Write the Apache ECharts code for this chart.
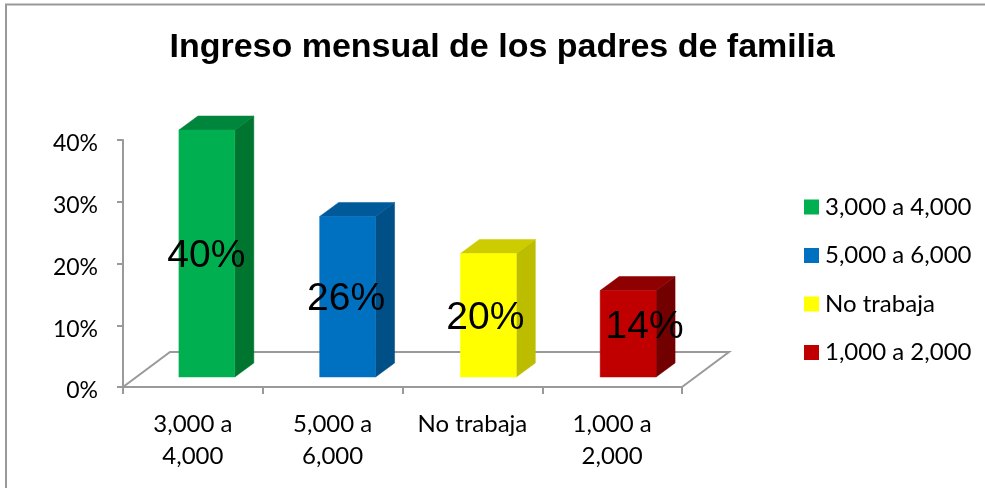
<!DOCTYPE html>
<html>
<head>
<meta charset="utf-8">
<style>
  html, body { margin: 0; padding: 0; background: #fff; }
  #chart { width: 985px; height: 488px; }
</style>
<script src="https://cdn.jsdelivr.net/npm/echarts@6/dist/echarts.min.js"></script>
</head>
<body>
<div id="chart"></div>
<script>
const titleText = 'Ingreso mensual de los padres de familia';
const categories = ['3,000 a 4,000', '5,000 a 6,000', 'No trabaja', '1,000 a 2,000'];
const values = [40, 26, 20, 14];
const yTicks = [0, 10, 20, 30, 40];

// front, side, top
const barColors = [
  ['#00B050', '#00752F', '#00853C'],
  ['#0070C0', '#004F87', '#005A9A'],
  ['#FFFF00', '#BDBD00', '#CCCC00'],
  ['#C00000', '#730000', '#8F0000']
];
// bar and label nudges, the labels are not all centred on their bars
const barShift = [14, 15, 16, 16];
const labelShiftX = [-0.5, -1.5, -3, 16.5];
const labelShiftY = [3, 3, 3, -7];

const axisGrey = '#9A9A9A';
const depthX = 19, depthY = 14;
const floorX = 47, floorY = 35;

function renderFloor(params, api) {
  const c = params.coordSys;
  const x0 = c.x, x1 = c.x + c.width, y = c.y + c.height;
  return {
    type: 'polyline',
    silent: true,
    shape: { points: [[x0, y], [x0 + floorX, y - floorY], [x1 + floorX, y - floorY], [x1, y]] },
    style: { fill: 'none', stroke: axisGrey, lineWidth: 2 }
  };
}

function renderBar(params, api) {
  const i = api.value(0);
  const top = api.coord([i, api.value(1)]);
  const base = api.coord([i, 0]);
  const w = api.size([1, 0])[0] * 0.4;
  const l = top[0] - w / 2 + barShift[i], r = l + w;
  const t = top[1] - 10, b = base[1] - 10;
  const col = barColors[i];
  const poly = (points, fill) => ({ type: 'polygon', shape: { points }, style: { fill, stroke: fill, lineWidth: 0.5 } });
  return {
    type: 'group',
    children: [
      poly([[r, b], [r + depthX, b - depthY], [r + depthX, t - depthY], [r, t]], col[1]),
      poly([[l, t], [l + depthX, t - depthY], [r + depthX, t - depthY], [r, t]], col[2]),
      poly([[l, t], [r, t], [r, b], [l, b]], col[0]),
      {
        type: 'text',
        z2: 10,
        style: {
          x: (l + r) / 2 + labelShiftX[i],
          y: (t + b) / 2 + labelShiftY[i],
          text: api.value(1) + '%',
          align: 'center',
          verticalAlign: 'middle',
          fill: '#000',
          font: '39px "Liberation Sans"'
        }
      }
    ]
  };
}

const chart = echarts.init(document.getElementById('chart'));
chart.setOption({
  animation: false,
  backgroundColor: '#fff',
  textStyle: { fontFamily: 'Lato' },
  title: {
    text: titleText,
    left: 497,
    top: 26,
    textAlign: 'center',
    textStyle: { fontFamily: 'Liberation Sans', fontWeight: 'bold', fontSize: 34, color: '#000' }
  },
  graphic: [{
    type: 'polyline',
    silent: true,
    shape: { points: [[6, 488], [6, 4.5], [985, 4.5]] },
    style: { fill: 'none', stroke: '#999', lineWidth: 2 }
  }],
  legend: {
    orient: 'vertical',
    left: 804,
    top: 195,
    padding: 0,
    itemWidth: 15,
    itemHeight: 15,
    itemGap: 24.5,
    icon: 'rect',
    data: categories,
    textStyle: { fontFamily: 'Lato', fontSize: 24, lineHeight: 24, color: '#000', padding: [0, 0, 0, 1] }
  },
  grid: { left: 123, right: 303, top: 140, bottom: 101 },
  xAxis: {
    type: 'category',
    data: categories,
    axisLine: { lineStyle: { color: axisGrey, width: 2 } },
    axisTick: { show: true, length: 7, lineStyle: { color: axisGrey, width: 2 } },
    axisLabel: {
      interval: 0,
      color: '#000',
      fontFamily: 'Lato',
      fontSize: 24,
      lineHeight: 32,
      margin: 21,
      formatter: (name) => name.replace(' a ', ' a\n')
    }
  },
  yAxis: {
    type: 'value',
    min: yTicks[0],
    max: yTicks[yTicks.length - 1],
    interval: 10,
    splitLine: { show: false },
    axisLine: { show: true, lineStyle: { color: axisGrey, width: 2 } },
    axisTick: { show: true, length: 6, lineStyle: { color: axisGrey, width: 2 } },
    axisLabel: { color: '#000', fontFamily: 'Lato', fontSize: 23, margin: 25, verticalAlign: 'top', lineHeight: 8, formatter: '{value}%' }
  },
  series: [
    { type: 'custom', name: 'floor', silent: true, z: 1, renderItem: renderFloor, data: [[0, 0]], encode: { x: 0, y: 1 } }
  ].concat(categories.map((name, i) => ({
    type: 'custom',
    name,
    z: 2,
    itemStyle: { color: barColors[i][0] },
    renderItem: renderBar,
    encode: { x: 0, y: 1 },
    data: [[i, values[i]]]
  })))
});
</script>
</body>
</html>
